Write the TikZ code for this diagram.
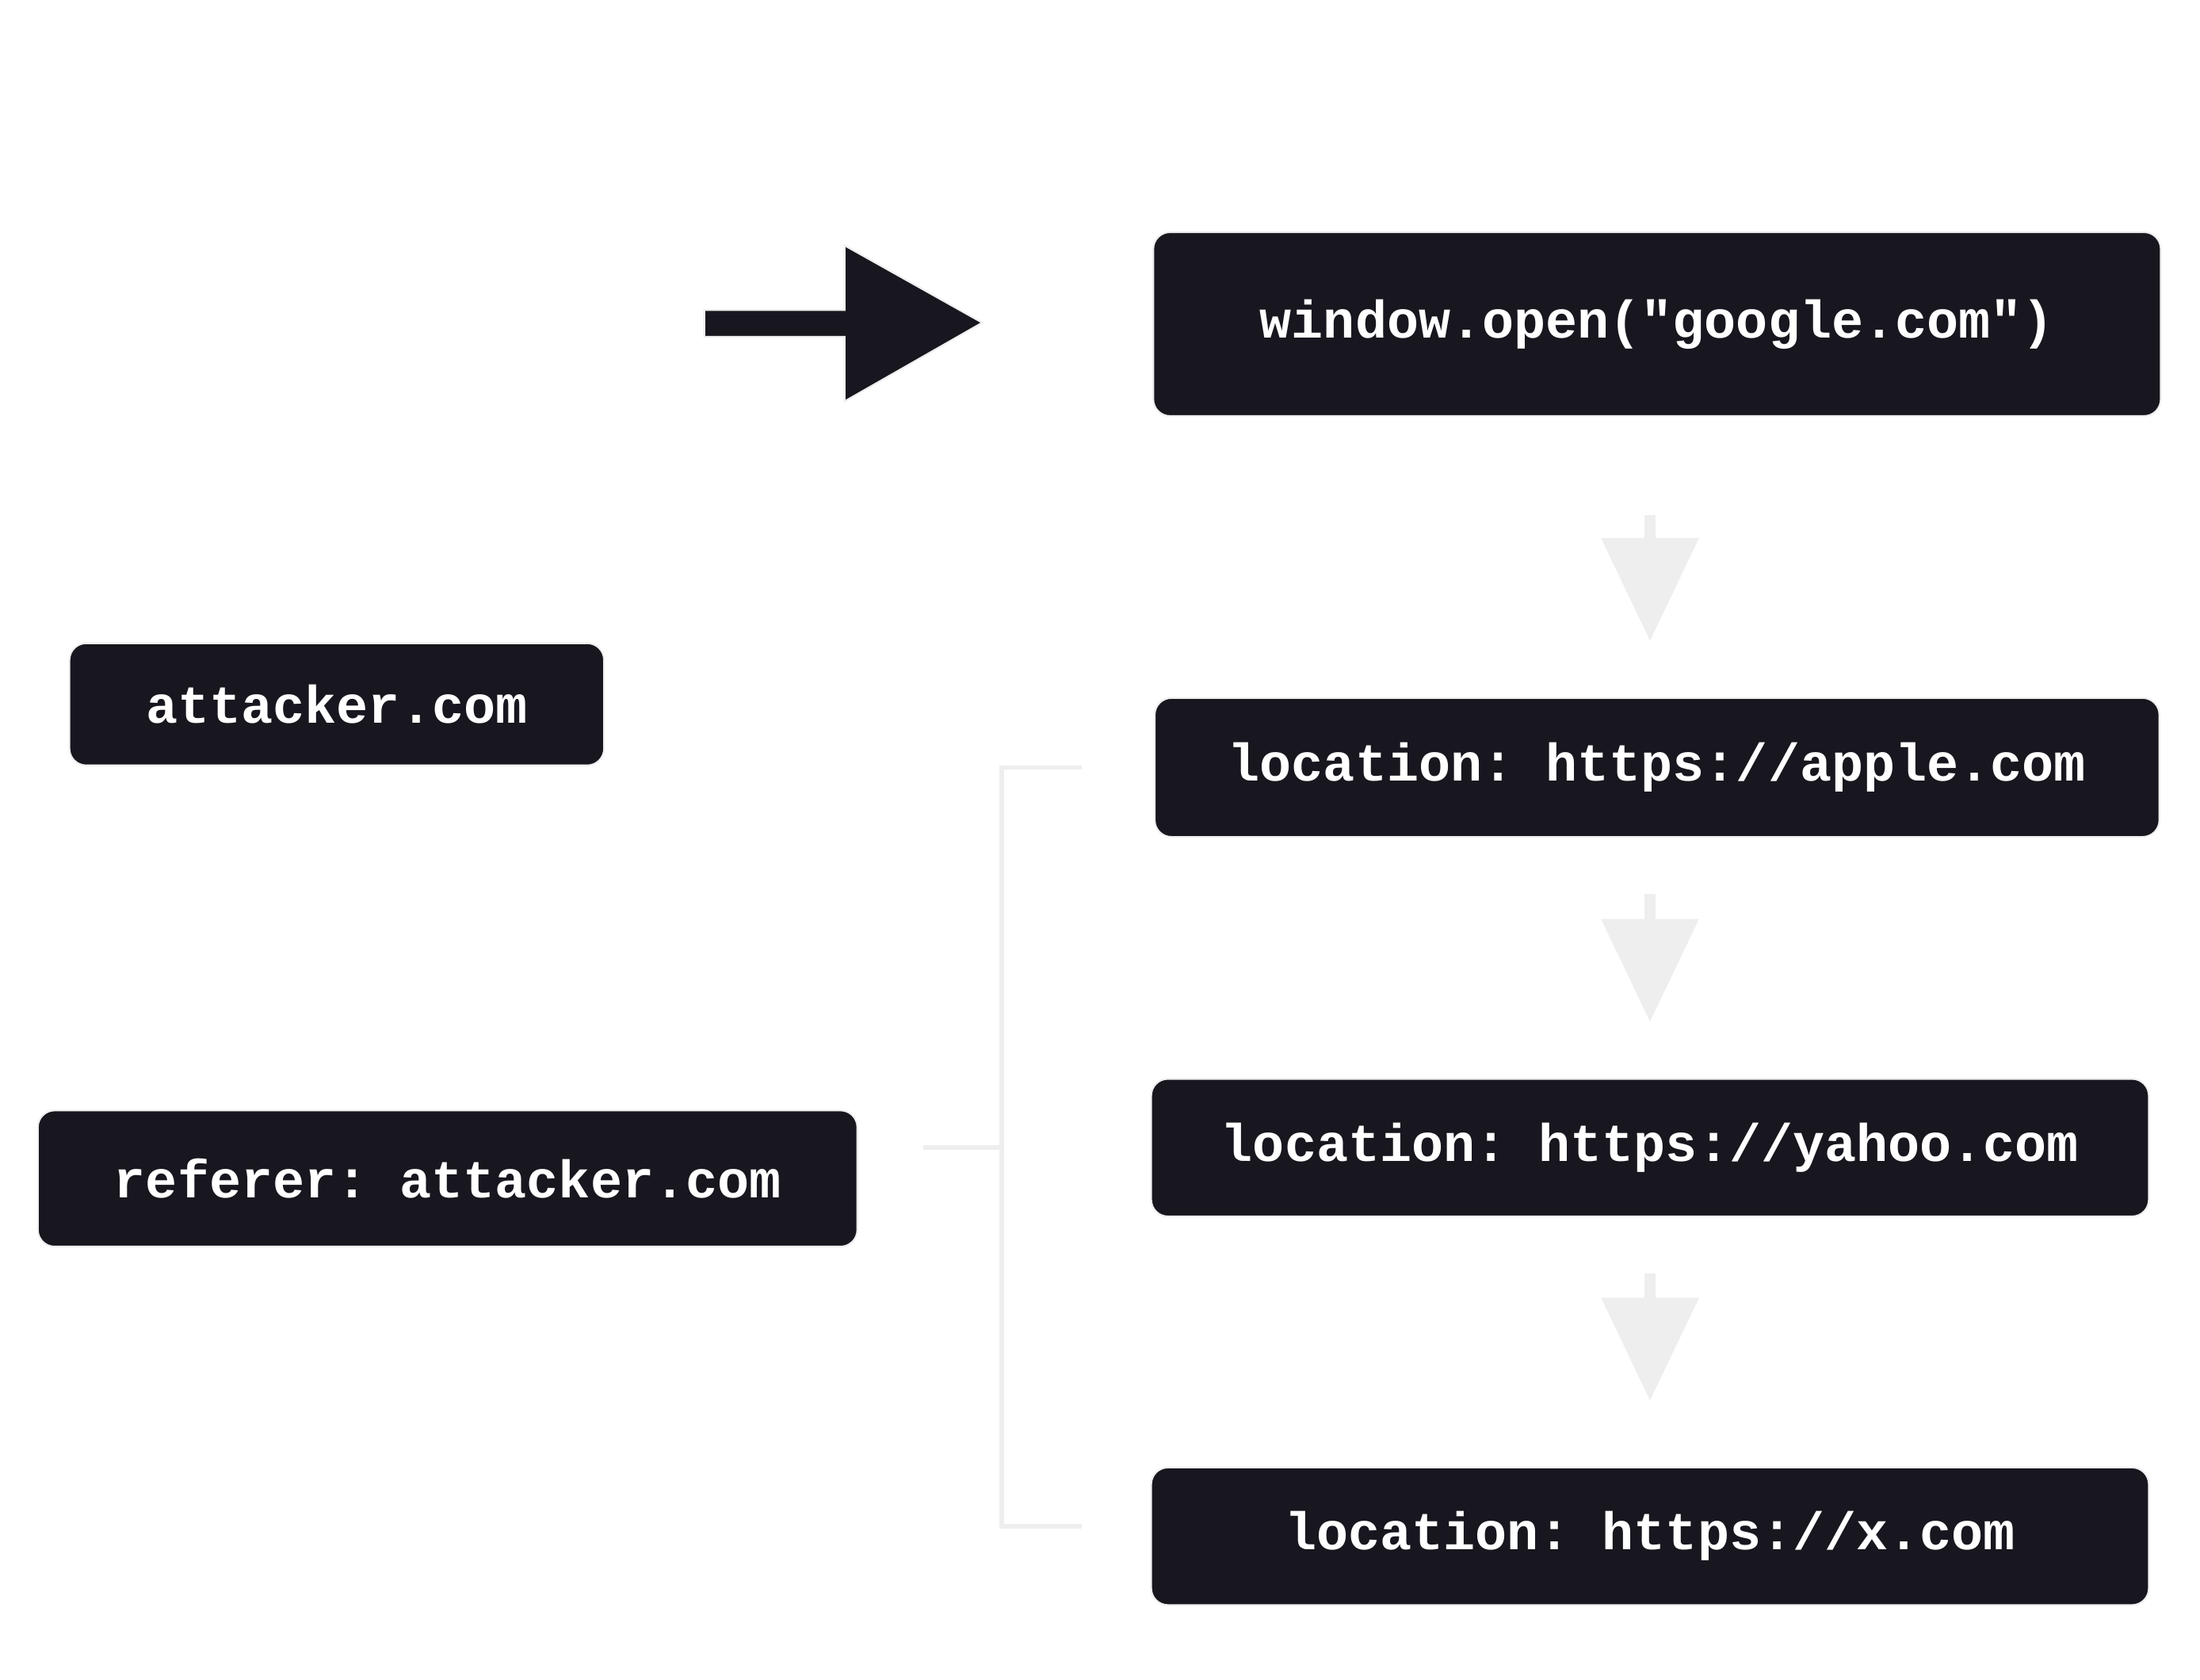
\documentclass[tikz,border=0pt]{standalone}
\usepackage{fontspec}
\setmonofont{Liberation Mono}
\usetikzlibrary{arrows.meta}
\definecolor{boxfill}{HTML}{18161E}
\definecolor{edgegray}{HTML}{EEEEEE}
\tikzset{
    codebox/.style = {draw = edgegray, line width = 0.6pt, fill = boxfill, rounded corners = 6pt,
        text = white, font = \ttfamily\bfseries\fontsize{19}{22}\selectfont, inner sep = 0pt},
    flow/.style = {draw = edgegray, line width = 4pt, -{Triangle[length = 13mm, width = 12mm]}},
    brace/.style = {draw = edgegray, line width = 1.6pt}
}
\begin{document}
\begin{tikzpicture}[x = 0.0177cm, y = -0.0177cm]
            \useasboundingbox (0,0) rectangle (1568,1197);
            \node[codebox, minimum width = 718*0.0177cm, minimum height = 131*0.0177cm] (win) at (1181,231) {window.open("google.com")};
            \node[codebox, minimum width = 381*0.0177cm, minimum height = 87*0.0177cm] (att) at (240,502) {attacker.com};
            \node[codebox, minimum width = 716*0.0177cm, minimum height = 99*0.0177cm] (apple) at (1181,547) {location: https://apple.com};
            \node[codebox, minimum width = 711*0.0177cm, minimum height = 98*0.0177cm] (yahoo) at (1176,818) {location: https://yahoo.com};
            \node[codebox, minimum width = 711*0.0177cm, minimum height = 98*0.0177cm] (xcom) at (1176,1095) {location: https://x.com};
            \node[codebox, minimum width = 584*0.0177cm, minimum height = 97*0.0177cm] (ref) at (319,840) {referer: attacker.com};
            % big arrow
            \draw[fill = boxfill, draw = edgegray, line width = 0.6pt]
                (502,221) -- (602,221) -- (602,175) -- (700,230) -- (602,286) -- (602,240) -- (502,240) -- cycle;
            % redirect chain
            \draw[flow] ([yshift = -70*0.0177cm]win.south -| 1176,0) -- ([yshift = 40*0.0177cm]apple.north -| 1176,0);
            \draw[flow] ([yshift = -40*0.0177cm]apple.south -| 1176,0) -- ([yshift = 40*0.0177cm]yahoo.north);
            \draw[flow] ([yshift = -40*0.0177cm]yahoo.south) -- ([yshift = 47*0.0177cm]xcom.north);
            % bracket
            \coordinate (btop) at (771,547);
            \coordinate (bbot) at (771,1088);
            \coordinate (bmid) at (658,818);
            \draw[brace] (btop) -- (714,547) -- (714,1088) -- (bbot);
            \draw[brace] (bmid) -- (714,818);
\end{tikzpicture}
\end{document}
